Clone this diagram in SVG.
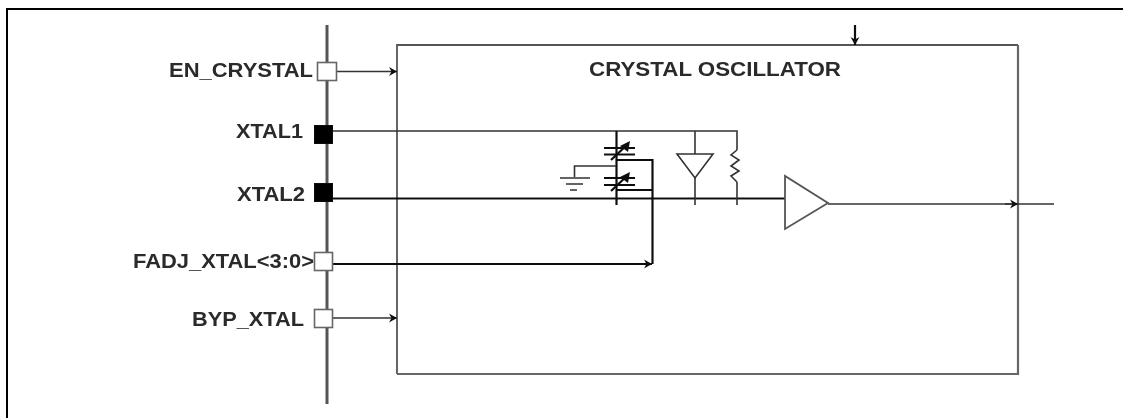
<svg xmlns="http://www.w3.org/2000/svg" width="1123" height="418" viewBox="0 0 1123 418">
<style>
.w{fill:none;stroke:#333;stroke-width:1.6}
.b{fill:none;stroke:#111;stroke-width:2.2}
.g{fill:none;stroke:#555;stroke-width:1.8}
.pin{fill:#fff;stroke:#666;stroke-width:1.6}
.blk{fill:#000;stroke:#111}
.t{font-family:"Liberation Sans",Arial,sans-serif;font-weight:bold;font-size:20px;fill:#2a2a2a}
.soft{filter:url(#blur)}
</style>
<defs>
<filter id="blur" x="-5%" y="-5%" width="110%" height="110%"><feGaussianBlur stdDeviation="0.5"/></filter>
<marker id="a" markerWidth="10" markerHeight="10" refX="8" refY="5" orient="auto" markerUnits="userSpaceOnUse"><path d="M0 0.500L8 5L0 9.500L2.500 5Z" fill="#111"/></marker>
</defs>
<rect width="1123" height="418" fill="#fff"/>
<path id="frame" d="M7 418V9H1123" fill="none" stroke="#000" stroke-width="2"/>
<g class="soft">
<g id="bus"><line x1="327" y1="25" x2="327" y2="404" stroke="#555" stroke-width="3"/></g>
<g id="oscillator">
<path d="M397 374V45H1018" class="g"/><path d="M397 374H1018V45" fill="none" stroke="#666" stroke-width="2.200"/>
<text class="t" x="589" y="75.500" textLength="252" lengthAdjust="spacingAndGlyphs">CRYSTAL OSCILLATOR</text>
</g>
<g id="connectors">
<path class="w" d="M337 71.500H397" marker-end="url(#a)"/>
<path class="w" d="M333 131H737V150"/>
<path class="b" d="M333 198.500H785"/>
<path class="b" d="M333 264H652" marker-end="url(#a)"/>
<path class="w" d="M333 318H397" marker-end="url(#a)"/>
<path class="w" d="M828 204H1054"/>
<path d="M1005 204H1018" class="w" marker-end="url(#a)"/>
<path class="b" d="M855 25V45" marker-end="url(#a)"/>
<path class="b" d="M616.500 131V205M616.500 160H652.500V264M616.500 190H652.500"/>
<path class="w" d="M695 131V154M695 178V205M737 182V205"/>
<path class="w" d="M737 150L731 155L739 160L731 166L739 171L731 176L737 182"/>
<path class="w" d="M616 166H574.500V177"/>
</g>
<g id="capacitor-top"><path class="b" d="M604 148H635M604 154.500H635"/><path class="b" d="M611 160L628 144"/><path d="M620 146L630 141L628 152Z" fill="#111"/></g>
<g id="capacitor-bottom"><path class="b" d="M604 178H635M604 185H635"/><path class="b" d="M611 191L628 175"/><path d="M620 177L630 172L628 183Z" fill="#111"/></g>
<g id="ground"><path class="w" d="M560 178H590M566 184H583M570 190H577"/></g>
<g id="buffer"><path d="M677 154H713L695 178Z" class="w"/></g>
<g id="amplifier"><path d="M785 176V229L828 203Z" fill="#fff" stroke="#555" stroke-width="1.800"/></g>
<g id="en-crystal"><rect class="pin" x="317.500" y="62.500" width="19" height="18"/><text class="t" x="169" y="77" textLength="144" lengthAdjust="spacingAndGlyphs">EN_CRYSTAL</text></g>
<g id="xtal1"><rect class="blk" x="314.500" y="125.500" width="18" height="18"/><text class="t" x="236" y="138" textLength="67" lengthAdjust="spacingAndGlyphs">XTAL1</text></g>
<g id="xtal2"><rect class="blk" x="314.500" y="183.500" width="18" height="18"/><text class="t" x="237" y="201" textLength="68" lengthAdjust="spacingAndGlyphs">XTAL2</text></g>
<g id="fadj-xtal"><rect class="pin" x="314.500" y="252.500" width="18" height="18"/><text class="t" x="133" y="268" textLength="181" lengthAdjust="spacingAndGlyphs">FADJ_XTAL&lt;3:0&gt;</text></g>
<g id="byp-xtal"><rect class="pin" x="314.500" y="309.500" width="18" height="18"/><text class="t" x="192" y="326" textLength="112" lengthAdjust="spacingAndGlyphs">BYP_XTAL</text></g>
</g>
</svg>
